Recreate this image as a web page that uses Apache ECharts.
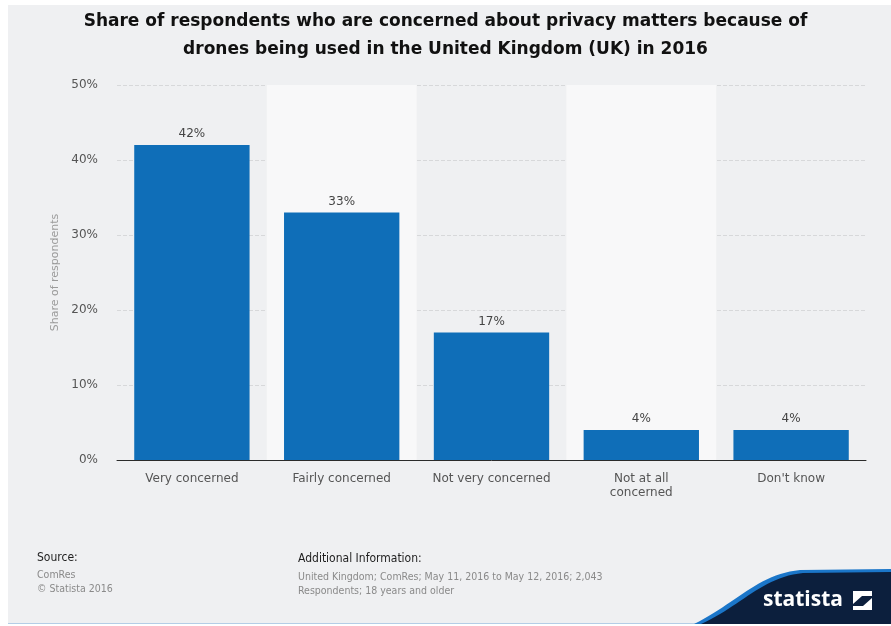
<!DOCTYPE html>
<html>
<head>
<meta charset="utf-8">
<script src="https://cdn.jsdelivr.net/npm/echarts@6/dist/echarts.min.js"></script>
<style>
  html, body { margin: 0; padding: 0; background: #ffffff; }
  #chart { width: 891px; height: 626px; }
</style>
</head>
<body>
<div id="chart"></div>
<script>
// Survey answers and shares (percent of respondents)
const categories = ['Very concerned', 'Fairly concerned', 'Not very concerned', 'Not at all\nconcerned', "Don't know"];
const shares = [42, 33, 17, 4, 4];
const yTicks = [0, 10, 20, 30, 40, 50];

const titleText = 'Share of respondents who are concerned about privacy matters because of\ndrones being used in the United Kingdom (UK) in 2016';
const sourceLines = ['ComRes', '\u00A9 Statista 2016'];
const infoLines = ['United Kingdom; ComRes; May 11, 2016 to May 12, 2016; 2,043', 'Respondents; 18 years and older'];

const FONT = 'DejaVu Sans';
const FONT_NARROW = 'DejaVu Sans Condensed, DejaVu Sans';

// outline of the brand swoosh: cubic curve sampled into polygon points
function swoosh(x0, y0, c1x, c1y, c2x, c2y, x1, y1, yFlat, yBottom) {
  const pts = [];
  for (let i = 0; i <= 24; i++) {
    const t = i / 24, u = 1 - t;
    pts.push([
      u * u * u * x0 + 3 * u * u * t * c1x + 3 * u * t * t * c2x + t * t * t * x1,
      u * u * u * y0 + 3 * u * u * t * c1y + 3 * u * t * t * c2y + t * t * t * y1
    ]);
  }
  pts.push([891, yFlat], [891, yBottom], [x0, yBottom]);
  return pts;
}

const chart = echarts.init(document.getElementById('chart'), null, { renderer: 'canvas' });

chart.setOption({
  backgroundColor: '#ffffff',
  animation: false,
  textStyle: { fontFamily: FONT },
  title: [
    {
      text: titleText,
      left: 'center',
      top: 8,
      padding: 0,
      textStyle: { fontFamily: FONT, fontSize: 17, fontWeight: 'bold', color: '#111111', lineHeight: 28 }
    },
    {
      text: 'Source:',
      left: 37, top: 552, padding: 0,
      textStyle: { fontFamily: FONT_NARROW, fontSize: 12, fontWeight: 'normal', color: '#1e1e1e' }
    },
    {
      text: sourceLines.join('\n'),
      left: 37, top: 568, padding: 0,
      textStyle: { fontFamily: FONT_NARROW, fontSize: 10.5, fontWeight: 'normal', color: '#8a8a8a', lineHeight: 14 }
    },
    {
      text: 'Additional Information:',
      left: 298, top: 553, padding: 0,
      textStyle: { fontFamily: FONT_NARROW, fontSize: 12, fontWeight: 'normal', color: '#1e1e1e' }
    },
    {
      text: infoLines.join('\n'),
      left: 298, top: 570, padding: 0,
      textStyle: { fontFamily: FONT_NARROW, fontSize: 10.5, fontWeight: 'normal', color: '#8a8a8a', lineHeight: 14 }
    }
  ],
  graphic: {
    elements: [
      // page panel
      { type: 'rect', z: -100, silent: true, shape: { x: 8, y: 5, width: 883, height: 618 }, style: { fill: '#eff0f2' } },
      { type: 'rect', z: -99, silent: true, shape: { x: 8, y: 623, width: 883, height: 1 }, style: { fill: '#b4cde6' } },
      // brand corner
      { type: 'polygon', z: 10, silent: true,
        shape: { points: swoosh(694, 624, 735, 604, 758, 574, 800, 570, 569, 624) },
        style: { fill: '#1b76c9' } },
      { type: 'polygon', z: 11, silent: true,
        shape: { points: swoosh(701, 624, 741, 606, 762, 577, 803, 573, 572, 624) },
        style: { fill: '#0c1f3d' } },
      { type: 'text', z: 12, silent: true, x: 763, y: 600,
        style: { text: 'statista', fill: '#ffffff', fontSize: 21, fontWeight: 'bold', fontFamily: 'Open Sans', verticalAlign: 'middle' } },
      { type: 'rect', z: 12, silent: true, shape: { x: 853, y: 591, width: 19, height: 19 }, style: { fill: '#ffffff' } },
      { type: 'polygon', z: 13, silent: true,
        shape: { points: [[853, 604], [862, 596], [872, 596], [872, 598], [863, 606], [853, 606]] },
        style: { fill: '#0c1f3d' } }
    ]
  },
  grid: { left: 117, right: 25, top: 85, bottom: 166, containLabel: false },
  xAxis: {
    type: 'category',
    data: categories,
    axisLine: { show: true, lineStyle: { color: '#2b2b2b', width: 1 } },
    axisTick: { show: false },
    axisLabel: { color: '#555555', fontSize: 12, fontFamily: FONT, margin: 12, lineHeight: 14, interval: 0 },
    splitArea: { show: true, areaStyle: { color: ['rgba(0,0,0,0)', '#f8f8f9'] } }
  },
  yAxis: {
    type: 'value',
    min: 0, max: 50, interval: 10,
    name: 'Share of respondents',
    nameLocation: 'middle',
    nameGap: 56,
    nameTextStyle: { color: '#9a9a9a', fontSize: 11, fontFamily: FONT },
    axisLine: { show: false },
    axisTick: { show: false },
    axisLabel: {
      color: '#555555', fontSize: 12, fontFamily: FONT, margin: 19,
      formatter: v => (yTicks.indexOf(v) >= 0 ? v + '%' : '')
    },
    splitLine: { show: true, lineStyle: { color: '#d7d8da', type: 'dashed', width: 1 } }
  },
  series: [{
    type: 'bar',
    data: shares,
    barWidth: '77%',
    itemStyle: { color: '#0f6eb8' },
    label: {
      show: true, position: 'top', distance: 5,
      color: '#444444', fontSize: 12, fontFamily: FONT,
      formatter: p => p.value + '%'
    }
  }]
});
</script>
</body>
</html>
